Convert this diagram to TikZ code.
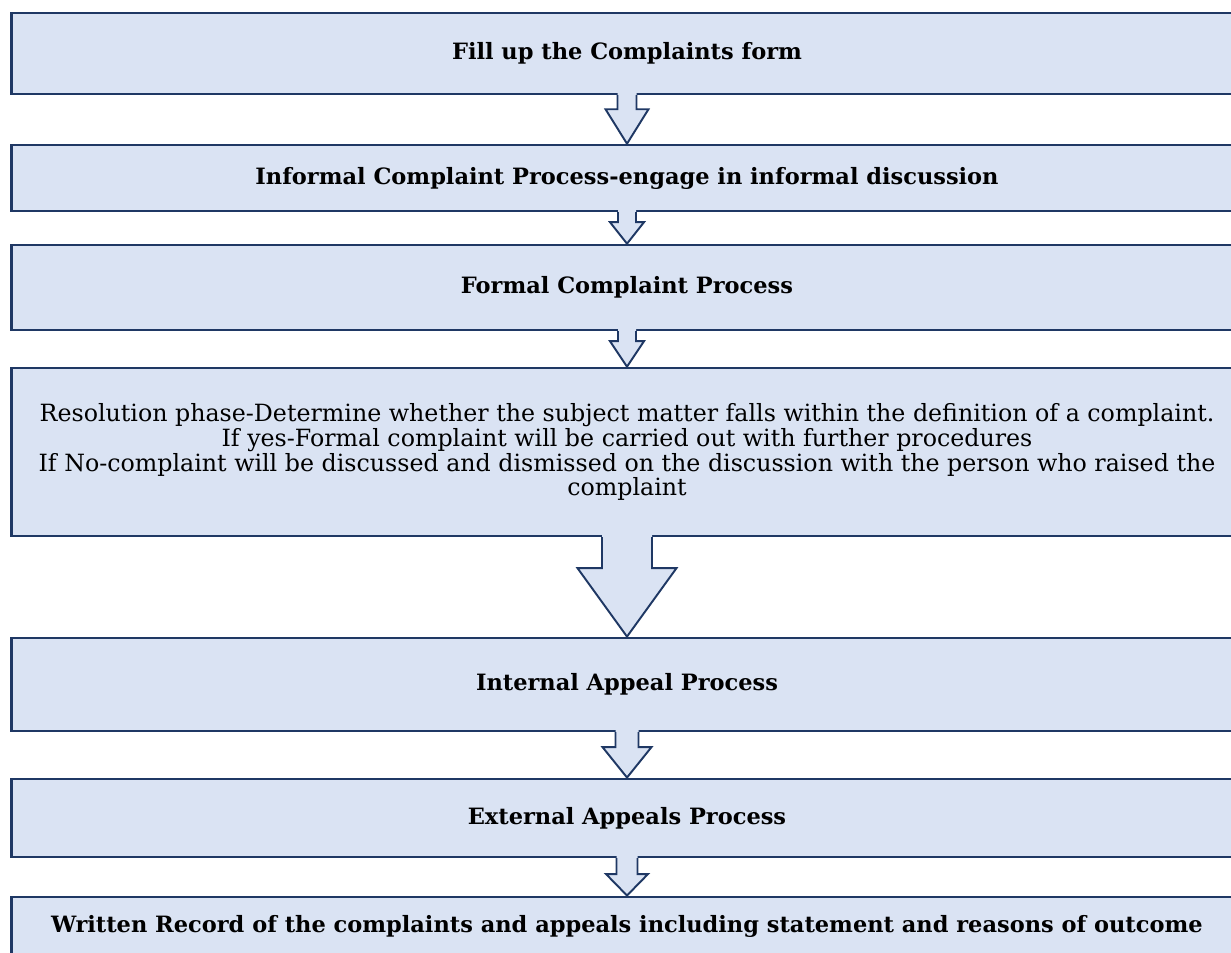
\documentclass[tikz,border=0pt]{standalone}
\usepackage{fontspec}
\setmainfont{DejaVu Serif}
\usepackage{xcolor}
\usetikzlibrary{positioning, calc}

\definecolor{boxline}{RGB}{31,56,100}
\definecolor{boxfill}{RGB}{218,227,243}

\tikzset{
    stepbox/.style={draw=boxline, fill=boxfill, line width=1.4pt, rectangle,
        minimum width=24.62cm, align=center, inner sep=2pt,
        font=\fontsize{12.8}{14}\selectfont\bfseries},
    arrowshape/.style={draw=boxline, fill=boxfill, line width=1.1pt, line join=miter}
}

% block arrow from the bottom of #1 to the top of #2
% #3 half stem, #4 half head, #5 stem length
\newcommand{\blockarrow}[5]{%
    \fill[boxfill] ($(#1.south)+(-#3,0.06)$) -- ($(#1.south)+(-#3,-#5)$) -- ($(#1.south)+(-#4,-#5)$)
        -- (#2.north) -- ($(#1.south)+(#4,-#5)$) -- ($(#1.south)+(#3,-#5)$) -- ($(#1.south)+(#3,0.06)$) -- cycle;
    \draw[arrowshape, fill=none] ($(#1.south)+(-#3,0)$) -- ($(#1.south)+(-#3,-#5)$) -- ($(#1.south)+(-#4,-#5)$)
        -- (#2.north) -- ($(#1.south)+(#4,-#5)$) -- ($(#1.south)+(#3,-#5)$) -- ($(#1.south)+(#3,0)$);
}

\begin{document}
\begin{tikzpicture}
    \useasboundingbox (0,0) rectangle (24.62,-19.06);

    % Nodes
    \node[stepbox, minimum height=1.62cm] (form) at (12.54,-1.07) {Fill up the Complaints form};
    \node[stepbox, minimum height=1.32cm, below=0.97cm of form] (informal) {Informal Complaint Process-engage in informal discussion};
    \node[stepbox, minimum height=1.70cm, below=0.63cm of informal] (formal) {Formal Complaint Process};
    \node[stepbox, minimum height=3.36cm, below=0.71cm of formal, font=\fontsize{13.5}{12.5}\selectfont] (resolution)
        {Resolution phase-Determine whether the subject matter falls within the definition of a complaint.\\
         If yes-Formal complaint will be carried out with further procedures\\
         If No-complaint will be discussed and dismissed on the discussion with the person who raised the\\
         complaint};
    \node[stepbox, minimum height=1.86cm, below=1.99cm of resolution] (internal) {Internal Appeal Process};
    \node[stepbox, minimum height=1.56cm, below=0.91cm of internal] (external) {External Appeals Process};
    \node[stepbox, minimum height=1.20cm, below=0.75cm of external] (record)
        {Written Record of the complaints and appeals including statement and reasons of outcome};

    % Arrows
    \blockarrow{form}{informal}{0.19}{0.43}{0.28}
    \blockarrow{informal}{formal}{0.18}{0.34}{0.20}
    \blockarrow{formal}{resolution}{0.18}{0.34}{0.20}
    \blockarrow{resolution}{internal}{0.50}{0.99}{0.62}
    \blockarrow{internal}{external}{0.23}{0.49}{0.30}
    \blockarrow{external}{record}{0.21}{0.42}{0.32}
\end{tikzpicture}
\end{document}
